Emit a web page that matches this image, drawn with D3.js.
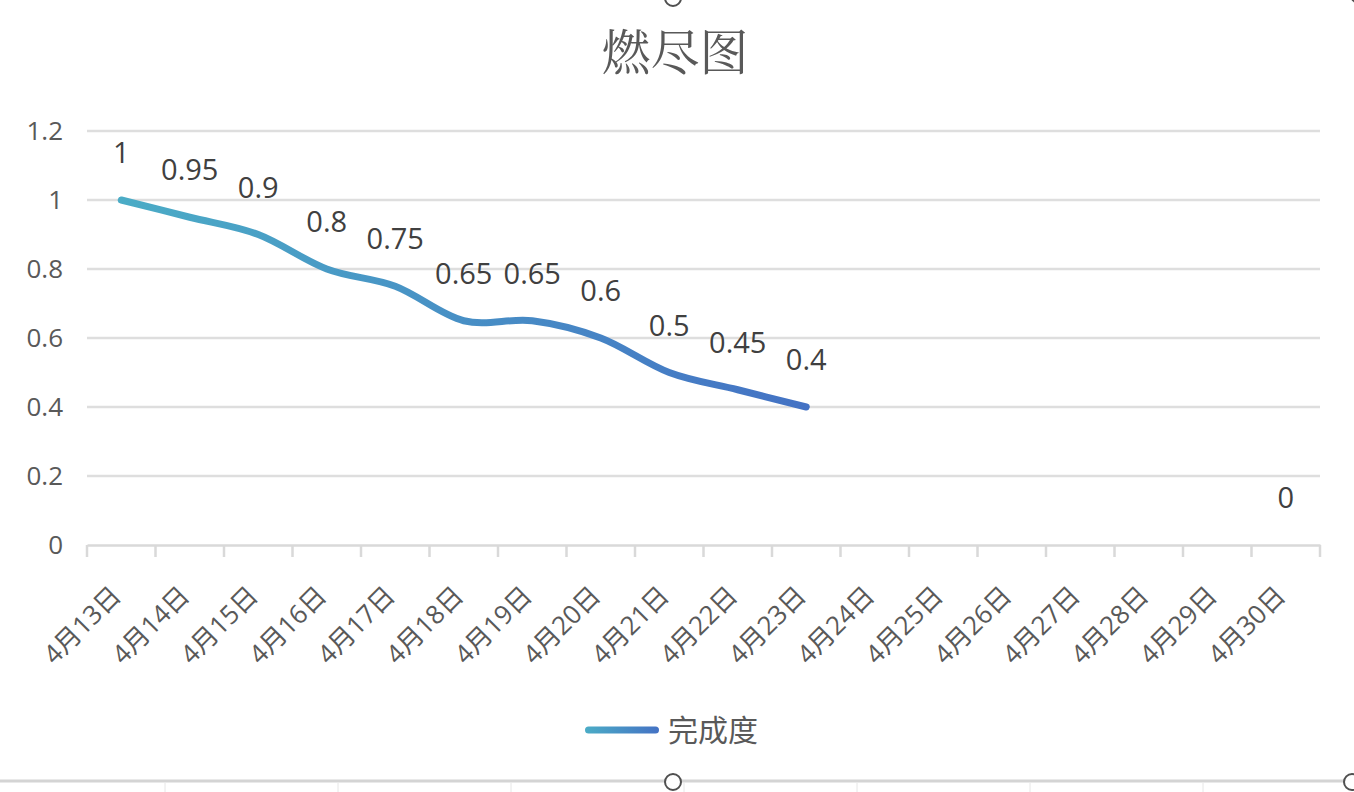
<!DOCTYPE html>
<html>
<head>
<meta charset="utf-8">
<script src="https://cdn.jsdelivr.net/npm/d3@7"></script>
<style>
  body { margin: 0; background: #fff; }
  svg { display: block; }
</style>
</head>
<body>
<div id="chart"></div>
<script>
// data
let dates = ['4月13日', '4月14日', '4月15日', '4月16日', '4月17日', '4月18日', '4月19日', '4月20日', '4月21日',
             '4月22日', '4月23日', '4月24日', '4月25日', '4月26日', '4月27日', '4月28日', '4月29日', '4月30日'];
let progress = [1, 0.95, 0.9, 0.8, 0.75, 0.65, 0.65, 0.6, 0.5, 0.45, 0.4, null, null, null, null, null, null, 0];
let yTicks = [0, 0.2, 0.4, 0.6, 0.8, 1, 1.2];
let seriesName = '完成度';
let title = '燃尽图';

let data = dates.map((d, i) => ({date: d, value: progress[i]}));

let width = 1354,
    height = 792;

let margin = {top: 131, bottom: 247, left: 87, right: 34};

let font = '"Open Sans", "Noto Sans CJK SC", sans-serif';

let svg = d3.select('#chart')
            .append('svg')
            .attr('width', width)
            .attr('height', height);

// scales
let xScale = d3.scaleBand()
              .domain(dates)
              .range([margin.left, width - margin.right]);

let yScale = d3.scaleLinear()
              .domain([0, 1.2])
              .range([height - margin.bottom, margin.top]);

let xc = d => xScale(d) + xScale.bandwidth() / 2;

// gridlines
svg.append('g')
  .selectAll('line')
  .data(yTicks.filter(t => t > 0))
  .enter()
  .append('line')
  .attr('x1', margin.left)
  .attr('x2', width - margin.right)
  .attr('y1', d => yScale(d))
  .attr('y2', d => yScale(d))
  .attr('stroke', '#dedede')
  .attr('stroke-width', 2.5);

// y axis (labels only)
let yAxis = svg.append('g')
  .attr('transform', `translate(${margin.left},0)`)
  .call(d3.axisLeft(yScale).tickValues(yTicks).tickSize(0).tickPadding(24).tickFormat(d3.format('~g')));
yAxis.select('.domain').remove();
yAxis.selectAll('text')
  .style('font-family', font)
  .style('font-size', '26px')
  .attr('fill', '#595959');

// x axis line + category boundary ticks
let xAxis = svg.append('g')
  .attr('transform', `translate(0,${height - margin.bottom})`)
  .call(d3.axisBottom(xScale).tickSize(0).tickFormat(''));
xAxis.select('.domain')
  .attr('stroke', '#d9d9d9')
  .attr('stroke-width', 2.5);
xAxis.selectAll('.tick').remove();
svg.append('g')
  .selectAll('line')
  .data(d3.range(dates.length + 1))
  .enter()
  .append('line')
  .attr('x1', i => margin.left + i * xScale.step())
  .attr('x2', i => margin.left + i * xScale.step())
  .attr('y1', height - margin.bottom)
  .attr('y2', height - margin.bottom + 12)
  .attr('stroke', '#d9d9d9')
  .attr('stroke-width', 2.5);

// rotated category labels
svg.append('g')
  .selectAll('text')
  .data(dates)
  .enter()
  .append('text')
  .attr('transform', d => `translate(${xc(d) - 5},${height - margin.bottom + 46}) rotate(-45)`)
  .attr('dy', '0.35em')
  .text(d => d)
  .style('text-anchor', 'end')
  .style('font-family', font)
  .style('font-size', '26px')
  .attr('fill', '#595959');

// gradient
let defs = svg.append('defs');
let lastIdx = progress.findIndex(v => v == null) - 1;
let grad = defs.append('linearGradient')
  .attr('id', 'lineGrad')
  .attr('gradientUnits', 'userSpaceOnUse')
  .attr('x1', xc(dates[0]))
  .attr('x2', xc(dates[lastIdx]))
  .attr('y1', 0)
  .attr('y2', 0);
grad.append('stop').attr('offset', '0%').attr('stop-color', '#4bacc6');
grad.append('stop').attr('offset', '100%').attr('stop-color', '#4472c4');

let legGrad = defs.append('linearGradient')
  .attr('id', 'legGrad');
legGrad.append('stop').attr('offset', '0%').attr('stop-color', '#4bacc6');
legGrad.append('stop').attr('offset', '100%').attr('stop-color', '#4472c4');

// line: isolated points draw nothing
let hasVal = i => i >= 0 && i < progress.length && progress[i] != null;
let line = d3.line()
  .defined((d, i) => d.value != null && (hasVal(i - 1) || hasVal(i + 1)))
  .x(d => xc(d.date))
  .y(d => yScale(d.value))
  .curve(d3.curveCatmullRom.alpha(0));

svg.append('path')
  .datum(data)
  .attr('d', line)
  .attr('fill', 'none')
  .attr('stroke', 'url(#lineGrad)')
  .attr('stroke-width', 7)
  .attr('stroke-linecap', 'round')
  .attr('stroke-linejoin', 'round');

// data labels
svg.append('g')
  .selectAll('text')
  .data(data.filter(d => d.value != null))
  .enter()
  .append('text')
  .attr('x', d => xc(d.date))
  .attr('y', d => yScale(d.value) - 37)
  .text(d => d.value)
  .style('text-anchor', 'middle')
  .style('font-family', font)
  .style('font-size', '29px')
  .attr('fill', '#404040');

// title
svg.append('text')
  .attr('x', 675)
  .attr('y', 70)
  .text(title)
  .style('text-anchor', 'middle')
  .style('font-family', '"Noto Serif CJK SC", "Noto Sans CJK SC", serif')
  .style('font-size', '49px')
  .attr('fill', '#595959');

// legend
svg.append('rect')
  .attr('x', 585).attr('y', 726.5)
  .attr('width', 74).attr('height', 7).attr('rx', 3.5)
  .attr('fill', 'url(#legGrad)');
svg.append('text')
  .attr('x', 668)
  .attr('y', 741)
  .text(seriesName)
  .style('font-family', '"Noto Sans CJK SC", sans-serif')
  .style('font-size', '30px')
  .attr('fill', '#595959');

// chart frame / selection handles
svg.append('line')
  .attr('x1', 0).attr('x2', width)
  .attr('y1', 781).attr('y2', 781)
  .attr('stroke', '#d4d4d4').attr('stroke-width', 3);
svg.append('g')
  .selectAll('line')
  .data([165, 338, 511, 684, 857, 1030, 1203])
  .enter()
  .append('line')
  .attr('x1', d => d).attr('x2', d => d)
  .attr('y1', 783).attr('y2', 792)
  .attr('stroke', '#e6e6e6').attr('stroke-width', 1);
svg.append('g')
  .selectAll('circle')
  .data([[673, 782], [1352, 782], [673, -2], [1359, -5]])
  .enter()
  .append('circle')
  .attr('cx', d => d[0]).attr('cy', d => d[1])
  .attr('r', 8)
  .attr('fill', '#fff')
  .attr('stroke', '#505050')
  .attr('stroke-width', 2);
</script>
</body>
</html>
